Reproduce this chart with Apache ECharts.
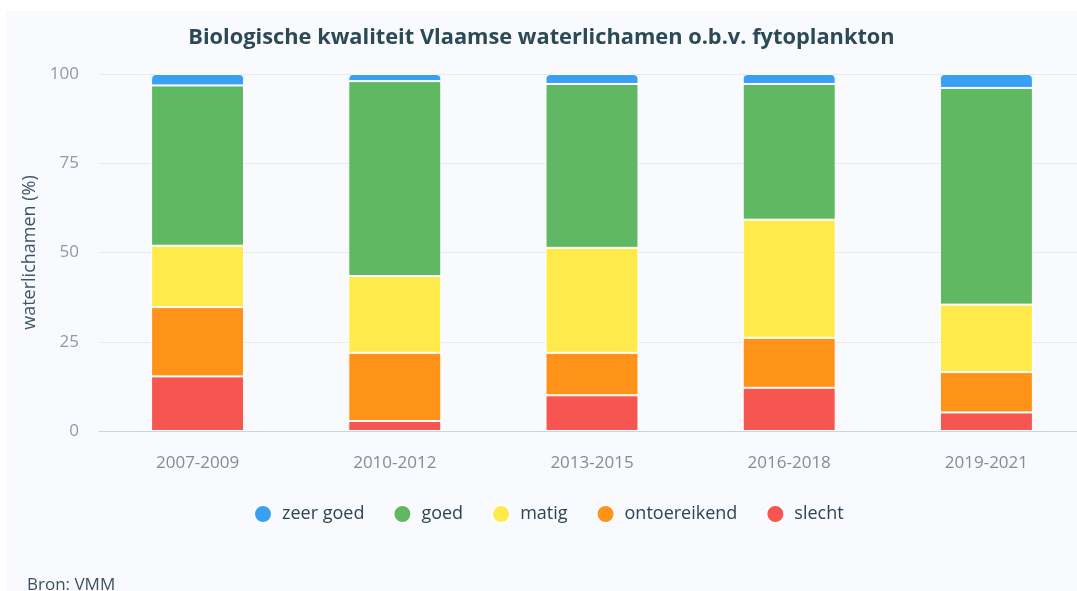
<!DOCTYPE html>
<html>
<head>
<meta charset="utf-8">
<script src="https://cdn.jsdelivr.net/npm/echarts@6/dist/echarts.min.js"></script>
<style>
  html, body { margin: 0; padding: 0; background: #ffffff; }
  #chart { position: absolute; left: 6px; top: 11px; width: 1071px; height: 580px; }
</style>
</head>
<body>
<div id="chart"></div>
<script>
var periods = ['2007-2009', '2010-2012', '2013-2015', '2016-2018', '2019-2021'];
var slecht = [15.3, 2.8, 10.0, 12.1, 5.2];
var ontoereikend = [19.4, 19.1, 11.9, 14.0, 11.3];
var matig = [17.2, 21.5, 29.4, 33.1, 18.9];
var goed = [44.9, 54.6, 45.9, 38.0, 60.7];
var zeerGoed = [3.2, 2.0, 2.8, 2.8, 3.9];
var yTicks = [0, 25, 50, 75, 100];

var colors = {
  'zeer goed': '#3aa0f3',
  'goed': '#60b862',
  'matig': '#ffea4c',
  'ontoereikend': '#ff931a',
  'slecht': '#f6564f'
};

function barSeries(name, data, top) {
  return {
    name: name,
    type: 'bar',
    stack: 'totaal',
    barWidth: 93,
    data: data,
    itemStyle: {
      color: colors[name],
      borderColor: '#ffffff',
      borderWidth: 1,
      borderRadius: top ? [4, 4, 0, 0] : 0
    }
  };
}

var chart = echarts.init(document.getElementById('chart'));
var option = {
  backgroundColor: '#f8fafd',
  animation: false,
  textStyle: { fontFamily: 'Open Sans' },
  title: {
    text: 'Biologische kwaliteit Vlaamse waterlichamen o.b.v. fytoplankton',
    left: 'center',
    top: 11,
    textStyle: { color: '#2c4a56', fontSize: 21.8, fontWeight: 'bold', fontFamily: 'Open Sans' }
  },
  legend: {
    data: ['zeer goed', 'goed', 'matig', 'ontoereikend', 'slecht'],
    icon: 'circle',
    itemWidth: 18,
    itemHeight: 18,
    itemGap: 28,
    left: 242,
    top: 488,
    textStyle: { color: '#2d4454', fontSize: 18, padding: [0, 0, 0, 5] }
  },
  graphic: [{
    type: 'text',
    left: 21,
    top: 566,
    style: { text: 'Bron: VMM', fill: '#3d5260', font: '17px "Open Sans"' }
  }],
  grid: { left: 93, top: 63, width: 986, height: 357, outerBoundsMode: 'none' },
  xAxis: {
    type: 'category',
    data: periods,
    axisTick: { show: false },
    axisLine: { lineStyle: { color: '#ccd6dc' } },
    axisLabel: { color: '#808d96', fontSize: 17, margin: 24 }
  },
  yAxis: {
    type: 'value',
    min: yTicks[0],
    max: yTicks[yTicks.length - 1],
    interval: 25,
    name: 'waterlichamen (%)',
    nameLocation: 'middle',
    nameGap: 58,
    nameTextStyle: { color: '#3d5666', fontSize: 18 },
    axisLabel: { color: '#8e9ca6', fontSize: 17, margin: 20 },
    splitLine: { lineStyle: { color: '#e5ecf0' } }
  },
  series: [
    barSeries('slecht', slecht),
    barSeries('ontoereikend', ontoereikend),
    barSeries('matig', matig),
    barSeries('goed', goed),
    barSeries('zeer goed', zeerGoed, true)
  ]
};
chart.setOption(option);
</script>
</body>
</html>
